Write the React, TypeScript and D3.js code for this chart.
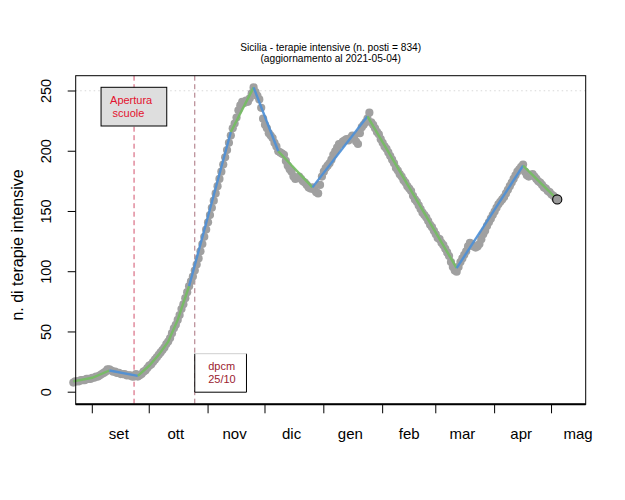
import React from "react";
import * as d3 from "d3";

// ICU occupancy, Sicily, one value per day starting on startDate
const startDate = "2020-08-22";
const icuValues = [
  8, 9, 9, 9, 10, 10, 10, 11, 11, 11,
  12, 12, 13, 13, 14, 15, 16, 17, 19, 19, 18, 17, 17, 16, 16, 15, 15, 15, 14, 14,
  14, 13, 13, 15, 13, 14, 15, 17, 18, 20,
  22, 23, 25, 27, 29, 31, 33, 35, 37, 40, 42, 45, 49, 53, 56, 60, 64, 69, 73, 78,
  83, 88, 92, 96, 101, 106, 111, 117, 123, 129, 135,
  141, 147, 153, 159, 165, 171, 177, 183, 189, 195, 201, 207, 213, 219, 223, 228,
  234, 238, 241, 240, 242, 241, 244, 248, 253, 249, 246, 243, 236, 227,
  222, 219, 215, 213, 211, 207, 204, 200, 199, 198, 197, 192, 188, 185, 183, 179,
  177, 178, 179, 177, 175, 174, 172, 170, 169, 170, 168, 166, 165, 172, 179,
  183, 186, 188, 190, 193, 197, 200, 203, 206, 206, 208, 209, 210, 209, 211, 213,
  212, 208, 206, 215, 220, 222, 224, 227, 232, 224, 222, 219, 216, 214, 210,
  207, 204, 202, 199, 196, 193, 190, 186, 184, 181, 179, 176, 174, 171, 169, 167,
  163, 160, 158, 155, 152, 149, 147, 145, 142, 139, 137, 134,
  131, 128, 127, 124, 122, 119, 116, 113, 108, 104, 101, 100, 104, 108, 111, 114,
  117, 121, 124, 123, 121, 120, 121, 123, 127, 131, 134, 138, 141, 144, 147,
  150, 153, 156, 158, 160, 162, 165, 168, 171, 174, 177, 180, 183, 185, 187, 189,
  183, 180, 179, 180, 181, 179, 177, 175, 174, 172, 170, 169, 167, 166,
  164, 163, 161, 160,
];

// piecewise fit
const fitDates = [
  "2020-08-22", "2020-09-01", "2020-09-10", "2020-09-25", "2020-10-01", "2020-10-06",
  "2020-10-11", "2020-10-16", "2020-10-22", "2020-11-13", "2020-11-25", "2020-12-08",
  "2020-12-26", "2021-01-24", "2021-03-12", "2021-04-16", "2021-05-04",
];
const fitValues = [9, 12, 18, 13.5, 22, 31, 42, 60, 88, 216, 253, 200, 170, 229, 103, 188, 160];
const fitBreaks = [
  "2020-09-10", "2020-09-25", "2020-10-22", "2020-11-13", "2020-11-25",
  "2020-12-08", "2020-12-26", "2021-01-24", "2021-03-12", "2021-04-16",
];

const monthTicks = [
  "2020-09-01", "2020-10-01", "2020-11-01", "2020-12-01", "2021-01-01",
  "2021-02-01", "2021-03-01", "2021-04-01", "2021-05-01",
];
const monthLabels = ["set", "ott", "nov", "dic", "gen", "feb", "mar", "apr", "mag"];
const yTicks = [0, 50, 100, 150, 200, 250];

const totalBeds = 834;
const threshold = 0.3;
const schoolDate = "2020-09-23";
const dpcmDate = "2020-10-25";

const W = 625;
const H = 500;
const left = 75.7;
const right = 585.7;
const top = 75.7;
const bottom = 404.3;
const FONT = "'Liberation Sans', Arial, Helvetica, sans-serif";
const BLUE = "#4d8fd6";
const GREEN = "#74bd62";

const parse = d3.utcParse("%Y-%m-%d");

export default function App() {
  const x = d3
    .scaleUtc()
    .domain([new Date(Date.UTC(2020, 7, 23, 6)), new Date(Date.UTC(2021, 4, 19))])
    .range([left, right]);
  const y = d3.scaleLinear().domain([-10.05, 262.7]).range([bottom, top]);

  const start = parse(startDate);
  const points = icuValues.map((v, i) => ({ date: d3.utcDay.offset(start, i), value: v }));
  const last = points[points.length - 1];

  const breaks = new Set(fitBreaks);
  const segments = [];
  let cur = [];
  fitDates.forEach((d, i) => {
    const p = { date: parse(d), value: fitValues[i] };
    cur.push(p);
    if (breaks.has(d)) {
      segments.push(cur);
      cur = [p];
    }
  });
  segments.push(cur);

  const line = d3
    .line()
    .x((d) => x(d.date))
    .y((d) => y(d.value));

  const xs = x(parse(schoolDate));
  const xd = x(parse(dpcmDate));
  const yThr = y(totalBeds * threshold);

  return (
    <svg
      width={W}
      height={H}
      style={{ position: "absolute", left: 0, top: 0, background: "#fff" }}
      fontFamily={FONT}
    >
      <rect width={W} height={H} fill="#fff" />

      {/* title */}
      <text x={(left + right) / 2} y={50.5} textAnchor="middle" fontSize={10.2}>
        Sicilia - terapie intensive (n. posti = {totalBeds})
      </text>
      <text x={(left + right) / 2} y={61.5} textAnchor="middle" fontSize={10.2}>
        (aggiornamento al 2021-05-04)
      </text>

      {/* threshold line */}
      <line x1={left} x2={right} y1={yThr} y2={yThr} stroke="#d8d8d8" strokeDasharray="1.5,3" />

      {/* event lines */}
      <line x1={xs} x2={xs} y1={top} y2={bottom} stroke="#d2506c" strokeDasharray="5,3.5" />
      <line x1={xd} x2={xd} y1={top} y2={bottom} stroke="#a8707c" strokeDasharray="5,3.5" />

      {/* observations */}
      <g fill="#a0a0a0">
        {points.map((p, i) => (
          <circle key={i} cx={x(p.date)} cy={y(p.value)} r={4.1} />
        ))}
      </g>

      {/* fitted segments */}
      {segments.map((s, i) => (
        <path
          key={i}
          d={line(s)}
          fill="none"
          stroke={i % 2 === 0 ? GREEN : BLUE}
          strokeWidth={2.4}
          strokeOpacity={0.92}
        />
      ))}

      <circle cx={x(last.date)} cy={y(last.value)} r={4.6} fill="#9a9a9a" stroke="#000" strokeWidth={1.1} />

      {/* annotation boxes */}
      <rect x={xs - 33} y={87.3} width={65.7} height={38.7} fill="#dedede" stroke="#000" />
      <text x={xs - 24} y={104.3} fontSize={11} fill="#e3122e">Apertura</text>
      <text x={xs - 21.5} y={116.8} fontSize={11} fill="#e3122e">scuole</text>

      <rect x={xd} y={353.7} width={51.7} height={y(0) - 353.7} fill="#fff" stroke="none" />
      <path
        d={`M${xd},353.7 V${y(0)} H${xd + 51.7} V353.7`}
        fill="none"
        stroke="#000"
      />
      <line x1={xd} x2={xd + 51.7} y1={353.7} y2={353.7} stroke="#cfcfcf" />
      <text x={xd + 13.4} y={369.5} fontSize={11} fill="#9b1b30">dpcm</text>
      <text x={xd + 13.4} y={382.5} fontSize={11} fill="#9b1b30">25/10</text>

      {/* frame */}
      <rect x={left} y={top} width={right - left} height={bottom - top} fill="none" stroke="#000" />
      <line x1={left} x2={right} y1={bottom} y2={bottom} stroke="#000" strokeWidth={2} />

      {/* x axis */}
      {monthTicks.map((t) => (
        <line key={t} x1={x(parse(t))} x2={x(parse(t))} y1={bottom} y2={bottom + 9} stroke="#000" />
      ))}
      {monthLabels.map((m, i) => (
        <text
          key={m}
          x={x(d3.utcDay.offset(parse(monthTicks[i]), 14))}
          y={439}
          textAnchor="middle"
          fontSize={15}
        >
          {m}
        </text>
      ))}

      {/* y axis */}
      {yTicks.map((t) => (
        <g key={t}>
          <line x1={left - 8} x2={left} y1={y(t)} y2={y(t)} stroke="#000" />
          <text
            transform={`translate(45.5,${y(t)}) rotate(-90)`}
            textAnchor="middle"
            dy="0.36em"
            fontSize={14.5}
          >
            {t}
          </text>
        </g>
      ))}
      <text
        transform={`translate(17,245) rotate(-90)`}
        textAnchor="middle"
        dy="0.36em"
        fontSize={16}
      >
        n. di terapie intensive
      </text>
    </svg>
  );
}
